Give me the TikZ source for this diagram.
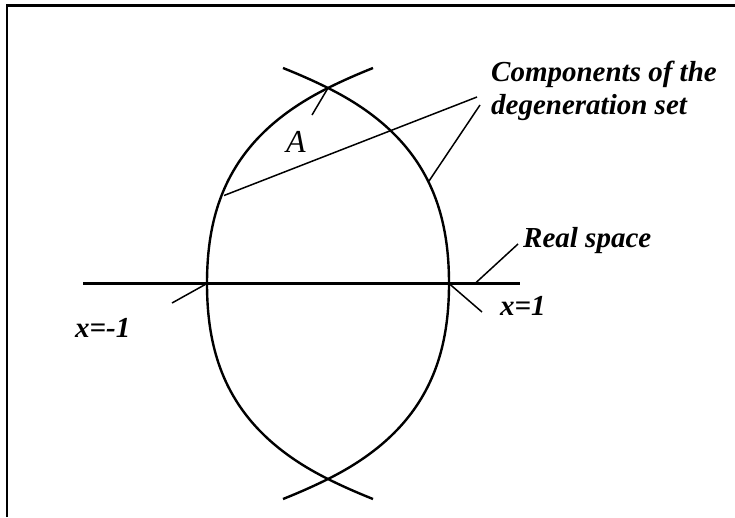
\documentclass[tikz,border=0pt]{standalone}
\usepackage{fontspec}
\setmainfont{Liberation Serif}

\begin{document}
\begin{tikzpicture}[
    x=1pt, y=-1pt,
    curve/.style={line width=2.4pt},
    realline/.style={line width=3.2pt},
    leader/.style={line width=1.5pt},
    frameline/.style={line width=2.2pt},
    lab/.style={inner sep=0pt, font=\fontsize{29}{33}\selectfont\bfseries\itshape}
]
    \useasboundingbox (0,0) rectangle (735,517);
    \draw[frameline] (7,517) -- (7,5.5) -- (735,5.5);

    \coordinate (top) at (328,88);
    \coordinate (bot) at (328,479);
    \coordinate (lft) at (207,283.5);
    \coordinate (rgt) at (449,283.5);
    \coordinate (rl) at (83,283.5);
    \coordinate (rr) at (520,283.5);

    \draw[curve] (283,68) .. controls (298,74) and (313,80.5) .. (top)
        .. controls (426.6,137) and (449,208.5) .. (rgt)
        .. controls (449,358.5) and (426.6,430) .. (bot)
        .. controls (313,486.5) and (298,493) .. (283,499);
    \draw[curve] (373,68) .. controls (358,74) and (343,80.5) .. (top)
        .. controls (229.4,137) and (207,208.5) .. (lft)
        .. controls (207,358.5) and (229.4,430) .. (bot)
        .. controls (343,486.5) and (358,493) .. (373,499);
    \draw[realline] (rl) -- (rr);

    \node[lab, anchor=north west, align=left] (comp) at (491,60.5) {Components of the\\degeneration set};
    \node[lab, anchor=base west] (real) at (523,247) {Real space};
    \node[lab, anchor=base west] (xp) at (500,315) {x=1};
    \node[lab, anchor=base west] (xm) at (75,337) {x=-1};
    \node[inner sep=0pt, anchor=base west, font=\fontsize{32}{36}\selectfont\itshape] (A) at (286,152) {A};

    \coordinate (aend) at (312,115);
    \coordinate (dl) at (224,195.5);
    \coordinate (dr) at (429,181);
    \coordinate (c1) at (477,97);
    \coordinate (c2) at (480,105);
    \coordinate (r1) at (475,283.5);
    \coordinate (r2) at (518,244);
    \coordinate (xpe) at (482,312);
    \coordinate (xme) at (172,303);

    \draw[leader] (aend) -- (top);
    \draw[leader] (dl) -- (c1);
    \draw[leader] (dr) -- (c2);
    \draw[leader] (r1) -- (r2);
    \draw[leader] (rgt) -- (xpe);
    \draw[leader] (xme) -- (lft);
\end{tikzpicture}
\end{document}
